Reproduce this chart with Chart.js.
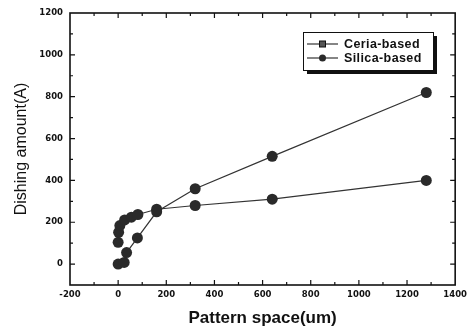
<!DOCTYPE html>
<html>
<head>
<meta charset="utf-8">
<script src="https://cdn.jsdelivr.net/npm/chart.js@4/dist/chart.umd.min.js"></script>
<style>
html,body{margin:0;padding:0;background:#fff;}
#wrap{width:472px;height:329px;position:relative;}
</style>
</head>
<body>
<div id="wrap"><canvas id="c" width="472" height="329"></canvas></div>
<script>
// ---- data ----
const ceriaX = [0, 25, 35, 80, 160, 320, 640, 1280];
const ceriaY = [0, 8, 55, 125, 250, 360, 515, 820];
const silicaX = [0, 2, 7, 27, 55, 82, 160, 320, 640, 1280];
const silicaY = [104, 152, 184, 211, 224, 237, 262, 280, 310, 400];
const seriesNames = ['Ceria-based', 'Silica-based'];
const xTicks = [-200, 0, 200, 400, 600, 800, 1000, 1200, 1400];
const yTicks = [0, 200, 400, 600, 800, 1000, 1200];
const xTitle = 'Pattern space(um)';
const yTitle = 'Dishing amount(A)';

const ink = '#111111';
const lineCol = '#333333';
const markCol = '#2a2a2a';

const frameAndLegend = {
  id: 'frameAndLegend',
  afterDraw(chart) {
    const ctx = chart.ctx;
    const a = chart.chartArea;
    const xs = chart.scales.x, ys = chart.scales.y;
    ctx.save();
    // frame
    ctx.strokeStyle = ink;
    ctx.lineWidth = 1.6;
    ctx.strokeRect(a.left, a.top, a.right - a.left, a.bottom - a.top);
    // inward ticks (major on labelled values, minor halfway)
    ctx.lineWidth = 1.2;
    const xStep = xTicks[1] - xTicks[0];
    for (let i = 0; i < xTicks.length; i++) {
      const vals = [[xTicks[i], 5]];
      if (i < xTicks.length - 1) vals.push([xTicks[i] + xStep / 2, 3]);
      vals.forEach(([v, len]) => {
        const px = xs.getPixelForValue(v);
        if (px <= a.left + 1 || px >= a.right - 1) return;
        ctx.beginPath();
        ctx.moveTo(px, a.bottom); ctx.lineTo(px, a.bottom - len);
        ctx.moveTo(px, a.top); ctx.lineTo(px, a.top + len);
        ctx.stroke();
      });
    }
    const yStep = yTicks[1] - yTicks[0];
    const yVals = [];
    yTicks.forEach((v) => { yVals.push([v, 5]); yVals.push([v - yStep / 2, 3]); });
    yVals.forEach(([v, len]) => {
      const py = ys.getPixelForValue(v);
      if (py <= a.top + 1 || py >= a.bottom - 1) return;
      ctx.beginPath();
      ctx.moveTo(a.left, py); ctx.lineTo(a.left + len, py);
      ctx.moveTo(a.right, py); ctx.lineTo(a.right - len, py);
      ctx.stroke();
    });

    // legend box with shadow
    const bx = 303, by = 32, bw = 130, bh = 38;
    ctx.fillStyle = '#111';
    ctx.fillRect(bx + 4, by + 4, bw, bh);
    ctx.fillStyle = '#fff';
    ctx.fillRect(bx, by, bw, bh);
    ctx.strokeStyle = ink;
    ctx.lineWidth = 1;
    ctx.strokeRect(bx + 0.5, by + 0.5, bw, bh);
    const rows = [44, 58];
    ctx.font = 'bold 12.5px "Liberation Sans", Arial, sans-serif';
    try { ctx.letterSpacing = '0.4px'; } catch (e) {}
    ctx.textBaseline = 'middle';
    rows.forEach((ry, i) => {
      ctx.strokeStyle = lineCol;
      ctx.lineWidth = 1.2;
      ctx.beginPath();
      ctx.moveTo(307, ry); ctx.lineTo(338, ry);
      ctx.stroke();
      ctx.fillStyle = markCol;
      if (i === 0) {
        ctx.fillStyle = '#555';
        ctx.fillRect(319.5, ry - 3, 6, 6);
        ctx.strokeStyle = ink; ctx.lineWidth = 1;
        ctx.strokeRect(319.5, ry - 3, 6, 6);
      } else {
        ctx.beginPath(); ctx.arc(322.5, ry, 3.5, 0, Math.PI * 2); ctx.fill();
      }
      ctx.fillStyle = ink;
      ctx.fillText(seriesNames[i], 344, ry + 0.5);
    });
    ctx.restore();
  }
};

const pts = (xa, ya) => xa.map((x, i) => ({ x: x, y: ya[i] }));
const tickFont = { family: '"DejaVu Sans", sans-serif', size: 8.5, weight: 'bold' };

new Chart(document.getElementById('c'), {
  type: 'line',
  data: {
    datasets: [
      {
        label: seriesNames[0], data: pts(ceriaX, ceriaY),
        borderColor: lineCol, borderWidth: 1.2,
        pointRadius: 5.5, pointBackgroundColor: markCol, pointBorderColor: markCol,
        pointBorderWidth: 0, tension: 0
      },
      {
        label: seriesNames[1], data: pts(silicaX, silicaY),
        borderColor: lineCol, borderWidth: 1.2,
        pointRadius: 5.5, pointBackgroundColor: markCol, pointBorderColor: markCol,
        pointBorderWidth: 0, tension: 0
      }
    ]
  },
  options: {
    responsive: false,
    animation: false,
    devicePixelRatio: 1,
    layout: { padding: { top: 13, right: 15, left: 0, bottom: 0 } },
    plugins: { legend: { display: false }, tooltip: { enabled: false } },
    scales: {
      x: {
        type: 'linear', min: -200, max: 1400,
        afterBuildTicks: (s) => { s.ticks = xTicks.map(v => ({ value: v })); },
        afterFit: (s) => { s.height = 44; },
        grid: { display: false, drawTicks: false },
        border: { display: false },
        ticks: {
          autoSkip: false, maxRotation: 0, padding: 5, color: ink,
          callback: (v) => String(v),
          font: tickFont
        },
        title: {
          display: true, text: xTitle, color: ink,
          padding: { top: 0, bottom: 0 },
          font: { family: '"Liberation Sans", Arial, sans-serif', size: 17, weight: 'bold' }
        }
      },
      y: {
        type: 'linear', min: -100, max: 1200,
        afterBuildTicks: (s) => { s.ticks = yTicks.map(v => ({ value: v })); },
        afterFit: (s) => { s.width = 70; },
        grid: { display: false, drawTicks: false },
        border: { display: false },
        ticks: {
          autoSkip: false, padding: 7, color: ink,
          callback: (v) => String(v),
          font: tickFont
        },
        title: {
          display: true, text: yTitle, color: ink,
          padding: { top: 12, bottom: 0 },
          font: { family: '"Liberation Sans", Arial, sans-serif', size: 16, weight: 'normal' }
        }
      }
    }
  },
  plugins: [frameAndLegend]
});
</script>
</body>
</html>
